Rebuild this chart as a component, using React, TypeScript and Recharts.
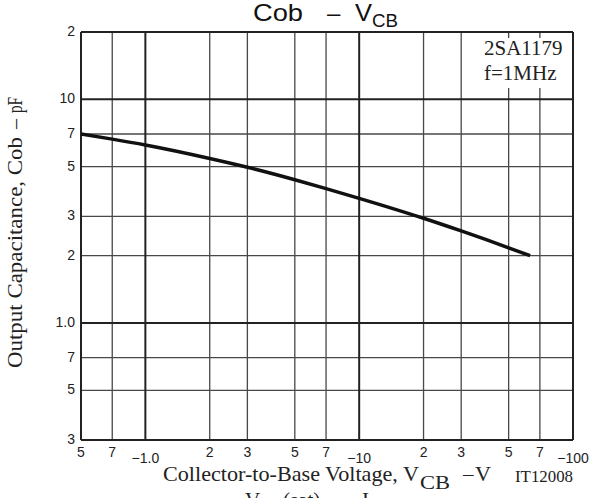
import React from 'react';
import { LineChart, Line, XAxis, YAxis, ReferenceLine } from 'recharts';

// Cob - VCB curve (VCB shown as magnitude)
const vcb = [0.5, 0.7, 1, 2, 3, 5, 7, 10, 20, 30, 50, 63];
const cob = [7.0, 6.64, 6.25, 5.44, 4.97, 4.37, 3.99, 3.61, 2.94, 2.58, 2.17, 2.0];

const xTicks = [0.5, 0.7, 1, 2, 3, 5, 7, 10, 20, 30, 50, 70, 100];
const xTickLabels = ['5', '7', '\u22121.0', '2', '3', '5', '7', '\u221210', '2', '3', '5', '7', '\u2212100'];
const yTicks = [0.3, 0.5, 0.7, 1, 2, 3, 5, 7, 10, 20];
const yTickLabels = ['3', '5', '7', '1.0', '2', '3', '5', '7', '10', '2'];

const xMinor = [0.7, 2, 3, 5, 7, 20, 30, 50, 70];
const xMajor = [1, 10];
const yMinor = [0.5, 0.7, 2, 3, 5, 7];
const yMajor = [1, 10];
const xDomain = [0.5, 100];
const yDomain = [0.3, 20];

const data = vcb.map((v, i) => ({ v, c: cob[i] }));

const sans = '"Liberation Sans", Arial, sans-serif';
const serif = '"Liberation Serif", "Times New Roman", serif';
const fit = 'spacingAndGlyphs';

function XTick(props: any) {
  const { x, y, payload } = props;
  const i = xTicks.indexOf(payload.value);
  const label = xTickLabels[i] ?? '';
  const neg = label.startsWith('\u2212');
  return (
    <text x={x} y={y + (neg ? 15 : 9)} textAnchor="middle" fontFamily={sans} fontSize={14} fill="#222">
      {label}
    </text>
  );
}

function YTick(props: any) {
  const { x, y, payload } = props;
  const i = yTicks.indexOf(payload.value);
  return (
    <text x={x + 2} y={y + 4} textAnchor="end" fontFamily={sans} fontSize={14} fill="#222">
      {yTickLabels[i] ?? ''}
    </text>
  );
}

export default function App() {
  return (
    <div style={{ position: 'absolute', left: 0, top: 0, width: 593, height: 498, background: '#fff', overflow: 'hidden' }}>
      <LineChart width={593} height={498} data={data} margin={{ top: 32, right: 20, bottom: 28, left: 21 }}>
        <XAxis
          dataKey="v"
          type="number"
          scale="log"
          domain={xDomain}
          ticks={xTicks}
          allowDataOverflow
          axisLine={false}
          tickLine={false}
          height={30}
          tick={<XTick />}
          interval={0}
        />
        <YAxis
          type="number"
          scale="log"
          domain={yDomain}
          ticks={yTicks}
          allowDataOverflow
          axisLine={false}
          tickLine={false}
          width={60}
          tick={<YTick />}
          interval={0}
        />
        {xMinor.map((v) => (
          <ReferenceLine key={'xm' + v} x={v} stroke="#484848" strokeWidth={1.3} />
        ))}
        {yMinor.map((v) => (
          <ReferenceLine key={'ym' + v} y={v} stroke="#484848" strokeWidth={1.3} />
        ))}
        {xMajor.map((v) => (
          <ReferenceLine key={'xM' + v} x={v} stroke="#222" strokeWidth={2} />
        ))}
        {yMajor.map((v) => (
          <ReferenceLine key={'yM' + v} y={v} stroke="#222" strokeWidth={2} />
        ))}
        {xDomain.map((v) => (
          <ReferenceLine key={'xb' + v} x={v} stroke="#222" strokeWidth={2} />
        ))}
        {yDomain.map((v) => (
          <ReferenceLine key={'yb' + v} y={v} stroke="#222" strokeWidth={2} />
        ))}
        <Line
          dataKey="c"
          type="monotone"
          stroke="#111"
          strokeWidth={3.5}
          dot={false}
          isAnimationActive={false}
        />
      </LineChart>
      <svg width={593} height={498} style={{ position: 'absolute', left: 0, top: 0, pointerEvents: 'none' }}>
        {/* title */}
        <text x={253} y={21} fontFamily={sans} fontSize={24} fill="#111" textLength={50} lengthAdjust={fit}>Cob</text>
        <text x={327} y={21} fontFamily={sans} fontSize={24} fill="#111">{'\u2013'}</text>
        <text x={355} y={21} fontFamily={sans} fontSize={24} fill="#111" textLength={17} lengthAdjust={fit}>V</text>
        <text x={372} y={27} fontFamily={sans} fontSize={19} fill="#111" textLength={26} lengthAdjust={fit}>CB</text>

        {/* device note */}
        <rect x={481} y={38} width={89} height={50} fill="#fff" />
        <text x={484} y={55} fontFamily={serif} fontSize={21} fill="#222">2SA1179</text>
        <text x={484} y={80} fontFamily={serif} fontSize={21} fill="#222">f=1MHz</text>

        {/* y label */}
        <g transform="translate(22,368) rotate(-90)">
          <text x={0} y={0} fontFamily={serif} fontSize={20} fill="#222" textLength={231} lengthAdjust={fit}>
            Output Capacitance, Cob
          </text>
          <text x={239} y={0} fontFamily={serif} fontSize={20} fill="#222">{'\u2013'}</text>
          <text x={255} y={0} fontFamily={serif} fontSize={20} fill="#222" textLength={16} lengthAdjust={fit}>pF</text>
        </g>

        {/* x label */}
        <text x={163} y={481} fontFamily={serif} fontSize={21} fill="#222" textLength={256} lengthAdjust={fit}>
          Collector-to-Base Voltage, V
        </text>
        <text x={420} y={489} fontFamily={serif} fontSize={19} fill="#222" textLength={30} lengthAdjust={fit}>CB</text>
        <text x={463} y={481} fontFamily={serif} fontSize={21} fill="#222">{'\u2013'}</text>
        <text x={475} y={481} fontFamily={serif} fontSize={21} fill="#222" textLength={16} lengthAdjust={fit}>V</text>
        <text x={515} y={482} fontFamily={serif} fontSize={16} fill="#222" textLength={58} lengthAdjust={fit}>IT12008</text>

        {/* next caption, cropped at the bottom edge as in the source */}
        <text x={245} y={507} fontFamily={serif} fontSize={21} fill="#222">V</text>
        <text x={283} y={507} fontFamily={serif} fontSize={21} fill="#222">(sat)</text>
        <text x={345} y={507} fontFamily={serif} fontSize={21} fill="#222">{'\u2013'}</text>
        <text x={362} y={507} fontFamily={serif} fontSize={21} fill="#222">I</text>
      </svg>
    </div>
  );
}
